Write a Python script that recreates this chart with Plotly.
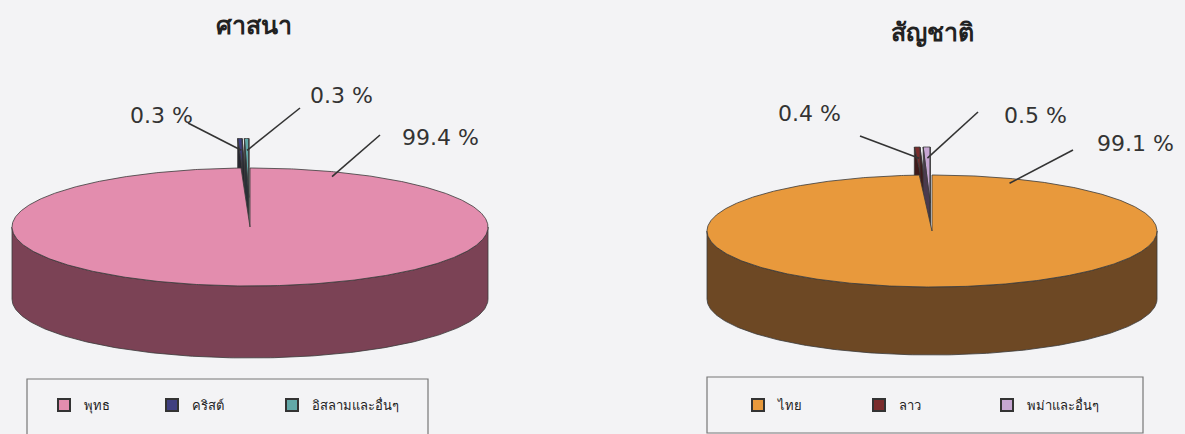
import numpy as np
import plotly.graph_objects as go

# ---------------- data ----------------
rel_title = "ศาสนา"
rel_labels = ["พุทธ", "คริสต์", "อิสลามและอื่นๆ"]
rel_values = [99.4, 0.3, 0.3]

nat_title = "สัญชาติ"
nat_labels = ["ไทย", "ลาว", "พม่าและอื่นๆ"]
nat_values = [99.1, 0.4, 0.5]

# ---------------- style ----------------
W, H = 1185, 434
BG = "#f3f3f5"
OUTLINE = "#3a3a3a"

rel_top = ["#E38DAE", "#3F3F80", "#62A8A8"]
rel_side = ["#7B4255", "#26262F", "#2A3036"]
nat_top = ["#E8993C", "#7A2C2C", "#C6A6D2"]
nat_side = ["#6D4824", "#3E1A1A", "#4A3A4E"]

rel_geo = dict(cx=250, cy=227, rx=238, ry=59, depth=72)
nat_geo = dict(cx=932, cy=231, rx=225, ry=56, depth=68)
explode = [0.0, 0.5, 0.5]

# label text positions (pixels) and leader line starts
rel_label_pos = [(440, 137), (161, 115), (341, 95)]
rel_line_start = [(380, 135), (188, 123), (300, 108)]
nat_label_pos = [(1135, 143), (809, 113), (1035, 115)]
nat_line_start = [(1073, 150), (860, 136), (978, 112)]
big_anchor_angle = 22.0

# legend symbol centres (pixels)
rel_legend_x = [63, 171, 291]
nat_legend_x = [757, 878, 1006]
legend_y = 405

fig = go.Figure()


def proj(g, theta, r, off=(0.0, 0.0), down=0.0):
    t = np.radians(theta)
    x = g["cx"] + r * g["rx"] * np.sin(t) + off[0]
    y = g["cy"] - r * g["ry"] * np.cos(t) + off[1] + down
    return x, y


def add_poly(xs, ys, color):
    fig.add_trace(go.Scatter(
        x=list(xs) + [xs[0]], y=list(ys) + [ys[0]], mode="lines",
        fill="toself", fillcolor=color,
        line=dict(color=OUTLINE, width=0.8),
        hoverinfo="skip", showlegend=False))


def draw_pie(values, g, tops, sides):
    total = float(sum(values))
    bounds = np.concatenate([[0.0], np.cumsum(values)]) * 360.0 / total
    d = g["depth"]
    info = []
    order = sorted(range(len(values)), key=lambda i: explode[i] == 0)
    for i in order:
        a0, a1 = bounds[i], bounds[i + 1]
        m = (a0 + a1) / 2
        e = explode[i]
        off = (e * g["rx"] * np.sin(np.radians(m)), -e * g["ry"] * np.cos(np.radians(m)))
        cxp, cyp = proj(g, 0, 0, off)
        arc = np.linspace(a0, a1, max(3, int((a1 - a0) * 2)))
        # visible outer wall (front half)
        lo, hi = max(a0, 90.0), min(a1, 270.0)
        if hi > lo:
            wa = np.linspace(lo, hi, 200)
            tx, ty = proj(g, wa, 1, off)
            add_poly(np.concatenate([tx, tx[::-1]]),
                     np.concatenate([ty, (ty + d)[::-1]]), sides[i])
        # top
        tx, ty = proj(g, arc, 1, off)
        add_poly(np.concatenate([[cxp], tx]), np.concatenate([[cyp], ty]), tops[i])
        # cut faces of exploded slices
        if e > 0:
            for a in (a0, a1):
                rx_, ry_ = proj(g, a, 1, off)
                add_poly([cxp, rx_, rx_, cxp], [cyp, ry_, ry_ + d, cyp + d], sides[i])
            anc = proj(g, m, 0.8, off)
        else:
            anc = proj(g, big_anchor_angle, 0.92, off)
        info.append((i, anc))
    return dict(info)


def add_labels(values, anchors, label_pos, line_start):
    for i, v in enumerate(values):
        fig.add_shape(type="line", xref="x", yref="y",
                      x0=line_start[i][0], y0=line_start[i][1],
                      x1=float(anchors[i][0]), y1=float(anchors[i][1]),
                      line=dict(color="#333333", width=1.6))
        fig.add_annotation(x=label_pos[i][0], y=label_pos[i][1], xref="x", yref="y",
                           text=f"{v:.1f} %", showarrow=False,
                           font=dict(family="DejaVu Sans, Verdana, sans-serif",
                                     size=22, color="#333333"))


rel_anch = draw_pie(rel_values, rel_geo, rel_top, rel_side)
nat_anch = draw_pie(nat_values, nat_geo, nat_top, nat_side)
add_labels(rel_values, rel_anch, rel_label_pos, rel_line_start)
add_labels(nat_values, nat_anch, nat_label_pos, nat_line_start)

# titles
fig.add_annotation(x=254, y=24, xref="x", yref="y", text=f"<b>{rel_title}</b>",
                   showarrow=False, font=dict(size=25, color="#222222"))
fig.add_annotation(x=932, y=31, xref="x", yref="y", text=f"<b>{nat_title}</b>",
                   showarrow=False, font=dict(size=25, color="#222222"))

# legend entries: one legend per entry so each can sit at its own spot
legend_layout = {}
k = 0
for labels, cols, xs in ((rel_labels, rel_top, rel_legend_x),
                         (nat_labels, nat_top, nat_legend_x)):
    for lab, col, lx in zip(labels, cols, xs):
        k += 1
        lname = "legend" if k == 1 else f"legend{k}"
        fig.add_trace(go.Scatter(x=[None], y=[None], mode="markers", name=lab,
                                 marker=dict(symbol="square", size=10, color=col,
                                             line=dict(color="#333333", width=1)),
                                 legend=lname))
        legend_layout[lname] = dict(
            x=(lx - 19) / W, y=1 - legend_y / H, xanchor="left", yanchor="middle",
            orientation="h", bgcolor="rgba(0,0,0,0)", borderwidth=0,
            font=dict(size=13, color="#222222"), itemsizing="constant")

# legend frames
fig.add_shape(type="rect", xref="x", yref="y", x0=27, y0=379, x1=428, y1=445,
              line=dict(color="#777777", width=1.2), fillcolor="rgba(0,0,0,0)")
fig.add_shape(type="rect", xref="x", yref="y", x0=707, y0=377, x1=1143, y1=433,
              line=dict(color="#777777", width=1.2), fillcolor="rgba(0,0,0,0)")

fig.update_layout(
    width=W, height=H, margin=dict(l=0, r=0, t=0, b=0),
    paper_bgcolor=BG, plot_bgcolor=BG,
    font=dict(family="Noto Sans, DejaVu Sans, sans-serif"),
    xaxis=dict(range=[0, W], visible=False, fixedrange=True),
    yaxis=dict(range=[H, 0], visible=False, fixedrange=True),
    **legend_layout,
)

fig.write_html("out.html")
